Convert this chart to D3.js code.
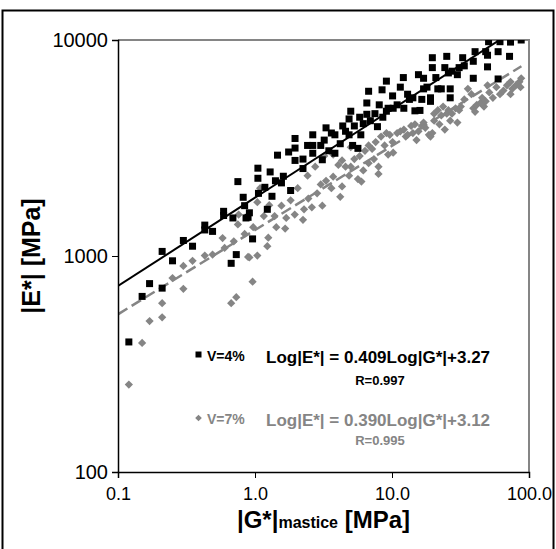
<!DOCTYPE html>
<html lang="en">
<head>
<meta charset="UTF-8">
<title>E* vs G* mastice</title>
<script src="https://cdn.jsdelivr.net/npm/d3@7"></script>
<style>
  body { margin: 0; background: #fff; }
  text { font-family: Arial, "Liberation Sans", sans-serif; }
</style>
</head>
<body>
<script>
// V=4% (black squares): |G*| mastice [MPa], |E*| [MPa]
const g4 = [0.12, 0.15, 0.17, 0.21, 0.21, 0.25, 0.30, 0.35, 0.43, 0.43, 0.49, 0.59, 0.59, 0.69, 0.75, 0.67, 0.73,
  0.82, 0.84, 0.86, 0.91, 0.89, 0.96, 1.05, 1.05, 1.06, 1.18, 1.23, 1.29, 1.33, 1.46, 1.41, 1.56, 1.61, 1.76, 1.82,
  1.96, 1.96, 1.96, 2.24, 2.24, 2.42, 2.64, 2.64, 2.64, 3.02, 3.1, 3.3, 3.2, 3.46, 3.61, 3.83, 3.83, 4.19, 4.37,
  4.58, 4.86, 4.86, 5.0, 5.16, 5.31, 5.64, 5.81, 5.92, 6.17, 6.55, 6.55, 6.75, 6.95, 7.51, 7.83, 8.07, 8.46, 8.57,
  9.1, 9.1, 9.37, 10.1, 10.2, 10.9, 11.5, 12.1, 12.2, 13.0, 13.4, 14.2, 14.7, 15.6, 16.0, 16.5, 17.0, 17.0, 18.0,
  19.1, 19.1, 19.7, 19.7, 20.9, 21.6, 22.9, 24.3, 25.1, 25.8, 26.6, 26.6, 27.4, 30.0, 30.9, 32.8, 33.7, 39.2, 39.2,
  40.4, 48.3, 49.8, 49.8, 50.7, 59.5, 59.5, 61.4, 72.1, 73.3, 87.7]
const e4 = [400, 650, 745, 710, 1050, 950, 1180, 1110, 1390, 1320, 1300, 1610, 1540, 1500, 2210, 925, 1015,
  1870, 1710, 1500, 1585, 1510, 1200, 2550, 2290, 1950, 2080, 1645, 2450, 1890, 2930, 2230, 2180, 2340, 3030, 2010,
  3500, 3160, 2770, 2810, 2540, 3250, 3640, 3250, 2990, 3250, 2790, 3920, 3440, 3070, 3710, 3640, 2990, 3310, 4000,
  3780, 4310, 3640, 4680, 3250, 4000, 3150, 4390, 3640, 4100, 5110, 4530, 5790, 4230, 4560, 3970, 5010, 5880, 4390,
  6450, 4680, 4830, 5510, 4830, 5010, 6050, 6700, 4830, 5610, 5310, 5400, 4700, 6910, 4720, 5310, 6650, 5940, 6050,
  5400, 5200, 8280, 7450, 6700, 5940, 5940, 7450, 8400, 7040, 5940, 5400, 7170, 6910, 7450, 8280, 7590, 7970, 6650,
  8830, 8830, 7510, 8500, 9820, 8830, 6600, 9820, 8400, 9780, 10000]

// V=7% (grey diamonds)
const g7 = [0.12, 0.15, 0.17, 0.21, 0.21, 0.25, 0.30, 0.30, 0.35, 0.43, 0.49, 0.58, 0.60, 0.67, 0.73, 0.70, 0.75,
  0.76, 0.84, 0.89, 0.91, 0.96, 0.97, 1.04, 1.04, 1.09, 1.16, 1.23, 1.25, 1.27, 1.39, 1.43, 1.56, 1.66, 1.69, 1.82,
  1.95, 2.05, 2.24, 2.28, 2.42, 2.45, 2.6, 2.75, 2.84, 3.02, 3.1, 3.2, 3.3, 3.61, 3.72, 3.72, 4.06, 4.19, 4.32, 4.32,
  4.58, 4.86, 5.0, 5.0, 5.31, 5.64, 5.81, 5.98, 6.17, 6.35, 6.75, 6.75, 7.16, 7.38, 7.6, 7.97, 7.97, 8.32, 8.83,
  9.1, 9.37, 9.64, 10.1, 10.2, 10.9, 11.5, 12.2, 12.6, 13.0, 13.8, 14.2, 14.7, 15.1, 15.6, 16.5, 17.0, 17.5, 18.6,
  19.1, 19.7, 20.3, 20.3, 21.6, 22.2, 22.9, 23.6, 24.3, 25.1, 25.8, 26.6, 27.4, 29.1, 30.0, 30.9, 31.8, 33.7, 35.8,
  38.0, 39.2, 40.4, 41.6, 44.2, 45.5, 46.9, 48.3, 49.8, 51.3, 54.5, 57.8, 61.4, 65.1, 69.1, 73.3, 73.3, 75.5, 80.2,
  85.1, 86.7, 87.7]
const e7 = [254, 396, 500, 520, 605, 790, 705, 900, 950, 1005, 1015, 1210, 1090, 605, 645, 1170, 1400,
  1555, 1265, 990, 985, 760, 1360, 1005, 1775, 2060, 1530, 1110, 1215, 1720, 1530, 1360, 1710, 1340, 1500, 1810,
  1555, 2060, 1470, 1645, 2355, 1845, 1680, 2590, 1950, 2145, 1710, 2900, 2230, 2060, 2950, 2330, 2640, 1880, 2100, 2770,
  2590, 2355, 3190, 2590, 2810, 2270, 2900, 2210, 2490, 3070, 3250, 2690, 3130, 2810, 3370, 2590, 2400, 3570, 3250,
  3710, 2950, 3640, 3370, 3010, 3710, 3780, 3850, 3570, 3640, 4000, 3710, 4070, 3440, 3780, 4000, 4150, 3920, 3640,
  3570, 3710, 4560, 4230, 4735, 4070, 4475, 4920, 3850, 4560, 4735, 4230, 4560, 4830, 4150, 4735, 4920, 5310, 5940,
  5610, 4830, 4650, 5010, 5110, 5400, 4920, 5200, 6170, 5720, 5400, 6050, 5610, 5830, 6170, 5610, 6400, 5940, 6170,
  6400, 6050, 6650]

// regression lines: log|E*| = a*log|G*| + b
const fit4 = { a: 0.409, b: 3.27 }
const fit7 = { a: 0.390, b: 3.12 }

const xTicks = [0.1, 1, 10, 100]
const xTickLabels = ['0.1', '1.0', '10.0', '100.0']
const yTicks = [100, 1000, 10000]
const yTickLabels = ['100', '1000', '10000']

const seriesNames = ['V=4%', 'V=7%']
const equations = ['Log|E*| = 0.409Log|G*|+3.27', 'Log|E*| = 0.390Log|G*|+3.12']
const rValues = ['R=0.997', 'R=0.995']

const width = 556
const height = 549
const grey = '#858585'

const margin = { top: 40, right: 27, bottom: 77, left: 118 }

const svg = d3.select('body').append('svg')
  .attr('width', width)
  .attr('height', height)

// outer frame
svg.append('rect')
  .attr('x', 2.5).attr('y', 10.5)
  .attr('width', 551).attr('height', 580)
  .attr('fill', 'none')
  .attr('stroke', '#000')
  .attr('stroke-width', 2)

const xScale = d3.scaleLog()
  .domain([0.1, 100])
  .range([margin.left, width - margin.right])

const yScale = d3.scaleLog()
  .domain([100, 10000])
  .range([height - margin.bottom, margin.top])

const x0 = margin.left, x1 = width - margin.right
const y0 = height - margin.bottom, y1 = margin.top

// top and right border in grey
svg.append('path')
  .attr('d', `M${x0},${y1}H${x1}V${y0}`)
  .attr('fill', 'none')
  .attr('stroke', grey)
  .attr('stroke-width', 2)

svg.append('clipPath').attr('id', 'plot')
  .append('rect')
  .attr('x', x0).attr('y', y1)
  .attr('width', x1 - x0).attr('height', y0 - y1)

const plot = svg.append('g').attr('clip-path', 'url(#plot)')

// diamonds first so the black squares sit on top
plot.selectAll('.d7')
  .data(g7.map((g, i) => [g, e7[i]]))
  .enter()
  .append('path')
  .attr('class', 'd7')
  .attr('d', d3.symbol(d3.symbolSquare, 34)())
  .attr('transform', d => `translate(${xScale(d[0])},${yScale(d[1])}) rotate(45)`)
  .attr('fill', grey)

const lineGen = fit => d3.line()
  .x(g => xScale(g))
  .y(g => yScale(Math.pow(10, fit.a * Math.log10(g) + fit.b)))

plot.append('path')
  .attr('d', lineGen(fit7)([0.1, 88]))
  .attr('fill', 'none')
  .attr('stroke', grey)
  .attr('stroke-width', 2.5)
  .attr('stroke-dasharray', '11,5')

plot.selectAll('.s4')
  .data(g4.map((g, i) => [g, e4[i]]))
  .enter()
  .append('rect')
  .attr('class', 's4')
  .attr('x', d => xScale(d[0]) - 3.5)
  .attr('y', d => yScale(d[1]) - 3.5)
  .attr('width', 7)
  .attr('height', 7)
  .attr('fill', '#000')

plot.append('path')
  .attr('d', lineGen(fit4)([0.1, 100]))
  .attr('fill', 'none')
  .attr('stroke', '#000')
  .attr('stroke-width', 2)

// axes
const xAxis = d3.axisBottom(xScale)
  .tickValues(xTicks)
  .tickFormat((d, i) => xTickLabels[i])
  .tickSize(6)
  .tickPadding(9)

const yAxis = d3.axisLeft(yScale)
  .tickValues(yTicks)
  .tickFormat((d, i) => yTickLabels[i])
  .tickSize(6)
  .tickPadding(4)

const gx = svg.append('g')
  .attr('transform', `translate(0, ${y0})`)
  .call(xAxis)
gx.select('.domain').attr('stroke', '#000').attr('stroke-width', 1.5)
gx.selectAll('text').attr('font-size', 18).attr('fill', '#000')
  .style('font-family', 'Arial, "Liberation Sans", sans-serif')

const gy = svg.append('g')
  .attr('transform', `translate(${x0}, 0)`)
  .call(yAxis)
gy.select('.domain').attr('stroke', '#000').attr('stroke-width', 1.5)
gy.selectAll('text').attr('font-size', 20).attr('fill', '#000')
  .style('font-family', 'Arial, "Liberation Sans", sans-serif')

// axis titles
const xt = svg.append('text')
  .attr('x', (x0 + x1) / 2)
  .attr('y', 528)
  .attr('text-anchor', 'middle')
  .attr('font-weight', 'bold')
  .attr('font-size', 24)
xt.append('tspan').text('|G*|')
xt.append('tspan').attr('font-size', 16).text('mastice')
xt.append('tspan').text(' [MPa]')

svg.append('text')
  .attr('transform', `translate(40, ${(y0 + y1) / 2}) rotate(-90)`)
  .attr('text-anchor', 'middle')
  .attr('font-weight', 'bold')
  .attr('font-size', 25)
  .text('|E*| [MPa]')

// legend / equations
const legend = svg.append('g')
const legColors = ['#000', grey]
const legY = [361, 424]
const rY = [385, 445]

legend.append('rect')
  .attr('x', 195.5).attr('y', legY[0] - 9.5)
  .attr('width', 6).attr('height', 6)
  .attr('fill', legColors[0])
legend.append('path')
  .attr('d', d3.symbol(d3.symbolSquare, 22)())
  .attr('transform', `translate(198.5, ${legY[1] - 6}) rotate(45)`)
  .attr('fill', legColors[1])

seriesNames.forEach((name, i) => {
  legend.append('text')
    .attr('x', 207).attr('y', legY[i])
    .attr('font-size', 14).attr('font-weight', 'bold')
    .attr('fill', legColors[i])
    .text(name)
  legend.append('text')
    .attr('x', 266).attr('y', legY[i] + 2)
    .attr('font-size', 17).attr('font-weight', 'bold')
    .attr('fill', legColors[i])
    .text(equations[i])
  legend.append('text')
    .attr('x', 380).attr('y', rY[i])
    .attr('text-anchor', 'middle')
    .attr('font-size', 13).attr('font-weight', 'bold')
    .attr('fill', legColors[i])
    .text(rValues[i])
})
</script>
</body>
</html>
